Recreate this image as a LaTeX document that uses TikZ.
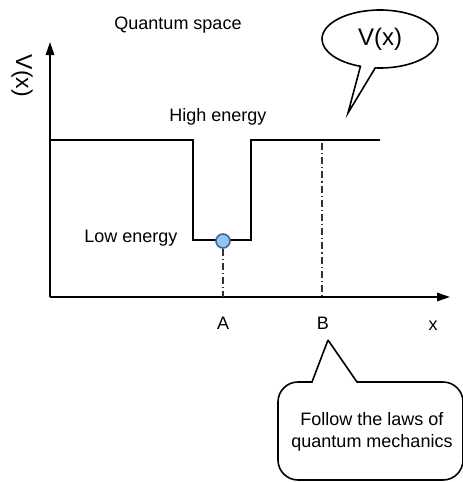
\documentclass[tikz,border=0pt]{standalone}
\usepackage{fontspec}
\setmainfont{Liberation Sans}
\usetikzlibrary{positioning,shapes.callouts,arrows.meta}

\definecolor{ballfill}{RGB}{150,196,240}
\definecolor{balledge}{RGB}{70,100,150}

\begin{document}
\begin{tikzpicture}[
      x=0.5pt, y=-0.5pt,
      every node/.style={font=\fontsize{9}{11}\selectfont, inner sep=1pt},
      axis/.style={-{Triangle[length=6.5pt,width=4.2pt]}, line width=0.9pt},
      wall/.style={line width=0.9pt, line join=miter},
      guide/.style={line width=0.6pt, draw=black!80,
                    dash pattern=on 3.5pt off 1.5pt on 0.6pt off 1.5pt},
      ball/.style={circle, draw=balledge, fill=ballfill, line width=0.8pt,
                   minimum size=7pt, inner sep=0pt},
      bubble/.style={draw, line width=0.8pt},
  ]
    \useasboundingbox (0,0) rectangle (462,482);

    %% --- Axes ---
    \coordinate (O) at (50,297);
    \coordinate (ytip) at (50,42);
    \coordinate (xtip) at (450,297);
    \draw[axis] (O) -- (ytip);
    \draw[axis] (O) -- (xtip);
    \node[rotate=-90, font=\fontsize{11.5}{13}\selectfont] (vlab) at (22,76) {V(x)};
    \node (xlab) at (433,326) {x};

    %% --- Potential well ---
    \coordinate (h1) at (50,140);
    \coordinate (w1) at (193,140);
    \coordinate (w2) at (193,240);
    \coordinate (w3) at (251,240);
    \coordinate (w4) at (251,140);
    \coordinate (h2) at (380,140);
    \draw[wall] (h1) -- (w1) -- (w2) -- (w3) -- (w4) -- (h2);

    %% --- Positions A and B ---
    \node[ball] (p) at (223,241) {};
    \coordinate (btop) at (322,143);
    \draw[guide] (p.south) -- (p.south |- O);
    \draw[guide] (btop) -- (btop |- O);
    \node (alab) at (223,323) {A};
    \node (blab) at (323,323) {B};

    %% --- Labels ---
    \node (title) at (178,25) {Quantum space};
    \node (high) at (218,117) {High energy};
    \node (low) at (131,238) {Low energy};

    %% --- Callouts ---
    \coordinate (vtip) at (348,113);
    \node[bubble, ellipse callout, minimum width=58pt, minimum height=29pt,
          inner sep=0pt, callout absolute pointer={(vtip)},
          font=\fontsize{12}{14}\selectfont] (vbub) at (380,39) {V(x)};

    \coordinate (ltip) at (328,340);
    \node[align=center] (laws) at (372,432) {Follow the laws of\\quantum mechanics};
    \draw[bubble] (ltip) -- (357,382) [rounded corners=10pt] -- (463,382)
      -- (463,480) -- (278,480) -- (278,382) [sharp corners] -- (312,382) -- (ltip);
  \end{tikzpicture}
\end{document}
